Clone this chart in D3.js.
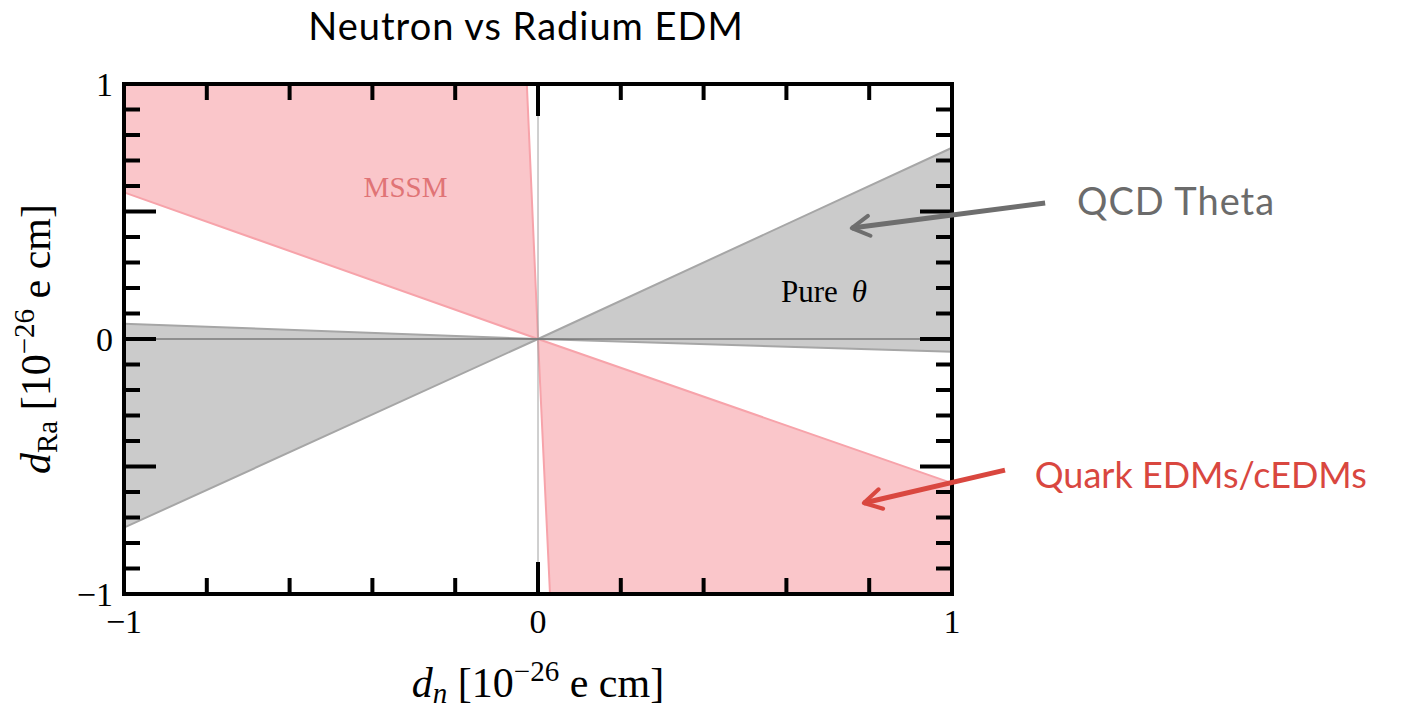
<!DOCTYPE html>
<html>
<head>
<meta charset="utf-8">
<script src="https://cdn.jsdelivr.net/npm/d3@7"></script>
<style>
  body { margin: 0; background: white; }
  svg { display: block; }
</style>
</head>
<body>
<div id="chart"></div>
<script>
// regions (data coords, units of 1e-26 e cm)
const thetaRight = [[0, 0], [1, 0.75], [1, -0.05]];
const thetaLeft = [[0, 0], [-1, -0.74], [-1, 0.06]];
const mssmUpper = [[0, 0], [-1, 0.575], [-1, 1], [-0.027, 1]];
const mssmLower = [[0, 0], [1, -0.565], [1, -1], [0.029, -1]];

const xMinor = [-0.8, -0.6, -0.4, -0.2, 0.2, 0.4, 0.6, 0.8];
const xMajor = [0];
const yMinor = [-0.9, -0.8, -0.7, -0.6, -0.4, -0.3, -0.2, -0.1, 0.1, 0.2, 0.3, 0.4, 0.6, 0.7, 0.8, 0.9];
const yMajor = [-0.5, 0, 0.5];
const tickLabels = [-1, 0, 1];

// annotation anchors (data coords)
const qcdArrow = [[1.225, 0.533], [0.758, 0.435]];
const quarkArrow = [[1.128, -0.514], [0.787, -0.643]];

const w = 1408, h = 711;
const pLeft = 124, pRight = 952, pTop = 84, pBottom = 594;

const svg = d3.select('#chart')
    .append('svg')
    .attr('width', w)
    .attr('height', h)

const x = d3.scaleLinear().domain([-1, 1]).range([pLeft, pRight])
const y = d3.scaleLinear().domain([-1, 1]).range([pBottom, pTop])

const line = d3.line().x(d => x(d[0])).y(d => y(d[1]))

// filled wedges
const regions = [
    {pts: mssmUpper, fill: '#fac6ca', stroke: '#f7a3aa'},
    {pts: mssmLower, fill: '#fac6ca', stroke: '#f7a3aa'},
    {pts: thetaRight, fill: '#cbcbcb', stroke: '#a6a6a6'},
    {pts: thetaLeft, fill: '#cbcbcb', stroke: '#a6a6a6'}
]

regions.forEach(r => {
    svg.append('path')
        .attr('d', line(r.pts) + 'Z')
        .attr('fill', r.fill)
    // boundary rays from the origin
    svg.append('path')
        .attr('d', line([r.pts[1], r.pts[0], r.pts[r.pts.length - 1]]))
        .attr('fill', 'none')
        .attr('stroke', r.stroke)
        .attr('stroke-width', 2)
})

// axes through origin
svg.append('line')
    .attr('x1', x(0)).attr('x2', x(0))
    .attr('y1', y(-1)).attr('y2', y(1))
    .attr('stroke', '#a0a0a0').attr('stroke-width', 1)
svg.append('line')
    .attr('x1', x(-1)).attr('x2', x(1))
    .attr('y1', y(0)).attr('y2', y(0))
    .attr('stroke', '#555').attr('stroke-width', 1.2)

// frame ticks (all four sides, inward)
const tickW = 4
const minorLen = 16, majorLen = 32
const ticks = svg.append('g').attr('stroke', 'black').attr('stroke-width', tickW)

const xTicks = xMinor.map(v => [v, minorLen]).concat(xMajor.map(v => [v, majorLen]))
xTicks.forEach(([v, len]) => {
    ticks.append('line').attr('x1', x(v)).attr('x2', x(v)).attr('y1', pBottom).attr('y2', pBottom - len)
    ticks.append('line').attr('x1', x(v)).attr('x2', x(v)).attr('y1', pTop).attr('y2', pTop + len)
})
const yTicks = yMinor.map(v => [v, minorLen]).concat(yMajor.map(v => [v, majorLen]))
yTicks.forEach(([v, len]) => {
    ticks.append('line').attr('y1', y(v)).attr('y2', y(v)).attr('x1', pLeft).attr('x2', pLeft + len)
    ticks.append('line').attr('y1', y(v)).attr('y2', y(v)).attr('x1', pRight).attr('x2', pRight - len)
})

// frame
svg.append('rect')
    .attr('x', pLeft).attr('y', pTop)
    .attr('width', pRight - pLeft).attr('height', pBottom - pTop)
    .attr('fill', 'none')
    .attr('stroke', 'black')
    .attr('stroke-width', 4)

const serif = "'Liberation Serif', 'DejaVu Serif', serif"
const sans = "Lato, 'Open Sans', sans-serif"
const fmt = v => v < 0 ? '\u2212' + Math.abs(v) : String(v)

// tick labels
svg.append('g').selectAll('text')
    .data(tickLabels)
    .enter()
    .append('text')
    .attr('x', d => x(d))
    .attr('y', pBottom + 39)
    .attr('text-anchor', 'middle')
    .style('font-family', serif)
    .style('font-size', '34px')
    .text(fmt)

svg.append('g').selectAll('text')
    .data(tickLabels)
    .enter()
    .append('text')
    .attr('x', pLeft - 11)
    .attr('y', d => y(d) + 12)
    .attr('text-anchor', 'end')
    .style('font-family', serif)
    .style('font-size', '34px')
    .text(fmt)

// region labels
svg.append('text')
    .attr('x', x(-0.32)).attr('y', y(0.6) + 11)
    .attr('text-anchor', 'middle')
    .style('font-family', serif)
    .style('font-size', '29px')
    .attr('fill', '#e07476')
    .text('MSSM')

const pure = svg.append('text')
    .attr('x', x(0.587)).attr('y', y(0.188) + 11)
    .style('font-family', serif)
    .style('font-size', '31px')
    .attr('fill', 'black')
pure.append('tspan').text('Pure')
pure.append('tspan').attr('dx', 14).style('font-style', 'italic').text('\u03b8')

// title
svg.append('text')
    .attr('x', 526).attr('y', 40)
    .attr('text-anchor', 'middle')
    .style('font-family', sans)
    .style('font-size', '38px')
    .style('letter-spacing', '1px')
    .text('Neutron vs Radium EDM')

// axis labels
const labelSize = '42px', subSize = '29px'
const xl = svg.append('text')
    .attr('x', x(0)).attr('y', 697)
    .attr('text-anchor', 'middle')
    .style('font-family', serif)
    .style('font-size', labelSize)
xl.append('tspan').style('font-style', 'italic').text('d')
xl.append('tspan').style('font-style', 'italic').style('font-size', subSize).attr('dy', 6).text('n')
xl.append('tspan').attr('dy', -6).text(' [10')
xl.append('tspan').style('font-size', subSize).attr('dy', -16).text('\u221226')
xl.append('tspan').attr('dy', 16).text(' e cm]')

const yl = svg.append('text')
    .attr('transform', `translate(50, ${y(0)}) rotate(-90)`)
    .attr('text-anchor', 'middle')
    .style('font-family', serif)
    .style('font-size', labelSize)
yl.append('tspan').style('font-style', 'italic').text('d')
yl.append('tspan').style('font-size', subSize).attr('dy', 7).text('Ra')
yl.append('tspan').attr('dy', -7).text(' [10')
yl.append('tspan').style('font-size', subSize).attr('dy', -16).text('\u221226')
yl.append('tspan').attr('dy', 16).text(' e cm]')

// annotations with arrows
svg.append('defs').selectAll('marker')
    .data([['grayHead', '#6e6e6e'], ['redHead', '#d9473f']])
    .enter()
    .append('marker')
    .attr('id', d => d[0])
    .attr('viewBox', '0 0 10 10')
    .attr('refX', 8).attr('refY', 5)
    .attr('markerWidth', 5).attr('markerHeight', 5)
    .attr('markerUnits', 'strokeWidth')
    .attr('orient', 'auto')
    .append('path')
    .attr('d', 'M1,1 L8,5 L1,9')
    .attr('fill', 'none')
    .attr('stroke', d => d[1])
    .attr('stroke-width', 1.6)
    .attr('stroke-linecap', 'round')
    .attr('stroke-linejoin', 'round')

svg.append('path')
    .attr('d', line(qcdArrow))
    .attr('stroke', '#6e6e6e').attr('stroke-width', 5).attr('fill', 'none')
    .attr('marker-end', 'url(#grayHead)')
svg.append('path')
    .attr('d', line(quarkArrow))
    .attr('stroke', '#d9473f').attr('stroke-width', 5).attr('fill', 'none')
    .attr('marker-end', 'url(#redHead)')

svg.append('text')
    .attr('x', x(1.302)).attr('y', y(0.533) + 12)
    .style('font-family', sans)
    .style('font-size', '38px')
    .style('letter-spacing', '1px')
    .attr('fill', '#6b6b6b')
    .text('QCD Theta')

svg.append('text')
    .attr('x', x(1.2)).attr('y', y(-0.514) + 18)
    .style('font-family', sans)
    .style('font-size', '36px')
    .attr('fill', '#d9473f')
    .text('Quark EDMs/cEDMs')
</script>
</body>
</html>
